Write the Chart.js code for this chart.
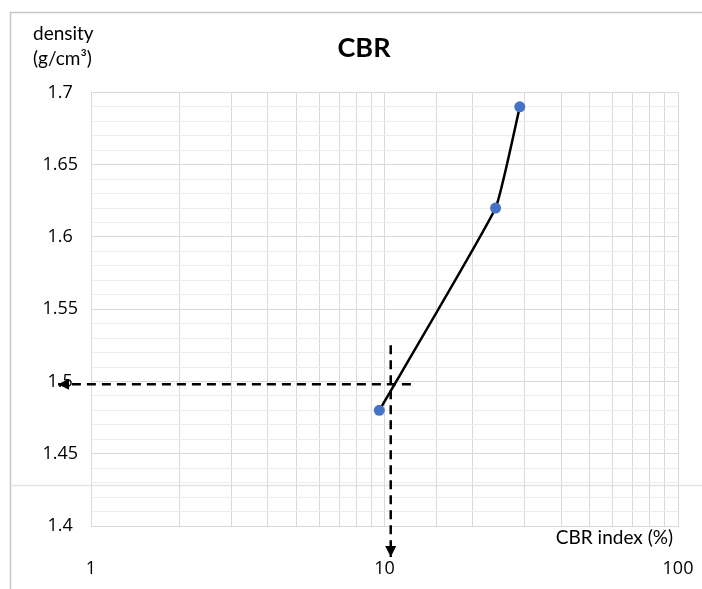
<!DOCTYPE html>
<html>
<head>
<meta charset="utf-8">
<script src="https://cdn.jsdelivr.net/npm/chart.js@4.4.1/dist/chart.umd.min.js"></script>
<style>
  html, body { margin: 0; padding: 0; background: #ffffff; }
  #wrap { width: 702px; height: 589px; position: relative; }
</style>
</head>
<body>
<div id="wrap"><canvas id="cbr" width="702" height="589"></canvas></div>
<script>
// CBR test results: index (%) against dry density (g/cm³)
const cbrIndex = [9.6, 23.9, 28.9];
const density = [1.48, 1.62, 1.69];

// Reading of the CBR at the design density (last point is the arrow tip)
const guideHorizX = [12.3, 0.772];
const guideHorizY = [1.498, 1.498];
const guideVertX = [10.5, 10.5];
const guideVertY = [1.525, 1.3786];

// Axis ranges and labelled ticks
const xTickLabels = [1, 10, 100];
const yRange = [1.4, 1.7];

const FONT = 'Lato, "Open Sans", "Liberation Sans", sans-serif';
const TICK_FONT = '"Open Sans", Lato, "Liberation Sans", sans-serif';
const MAJOR_GRID = '#d9d9d9';
const MINOR_GRID = '#ededed';

const toPoints = (xs, ys) => xs.map((x, i) => ({ x: x, y: ys[i] }));
const isMajorY = v => Math.round(v * 100) % 5 === 0;

// Border of the chart frame and the stray rule across it
const framePlugin = {
  id: 'frame',
  beforeDraw(chart) {
    const ctx = chart.ctx;
    ctx.save();
    ctx.lineWidth = 1.5;
    ctx.strokeStyle = '#c6c6c6';
    ctx.beginPath();
    ctx.moveTo(10.5, chart.height);
    ctx.lineTo(10.5, 12.5);
    ctx.lineTo(chart.width, 12.5);
    ctx.stroke();
    ctx.strokeStyle = '#e4e4e4';
    ctx.beginPath();
    ctx.moveTo(10.5, 485.5);
    ctx.lineTo(chart.width, 485.5);
    ctx.stroke();
    ctx.restore();
  }
};

// Filled arrowheads at the last point of the guide datasets
const arrowPlugin = {
  id: 'arrows',
  afterDatasetsDraw(chart) {
    const ctx = chart.ctx;
    chart.data.datasets.forEach((ds, i) => {
      if (!ds.arrow) return;
      const pts = chart.getDatasetMeta(i).data;
      const tip = pts[pts.length - 1];
      const prev = pts[pts.length - 2];
      const ang = Math.atan2(tip.y - prev.y, tip.x - prev.x);
      const len = 11, half = 5.5;
      const bx = tip.x - Math.cos(ang) * len;
      const by = tip.y - Math.sin(ang) * len;
      ctx.save();
      ctx.fillStyle = '#000000';
      ctx.beginPath();
      ctx.moveTo(tip.x, tip.y);
      ctx.lineTo(bx + Math.sin(ang) * half, by - Math.cos(ang) * half);
      ctx.lineTo(bx - Math.sin(ang) * half, by + Math.cos(ang) * half);
      ctx.closePath();
      ctx.fill();
      ctx.restore();
    });
  }
};

// Axis titles placed the way the spreadsheet lays them out
const axisTitlePlugin = {
  id: 'axisTitles',
  afterDraw(chart) {
    const ctx = chart.ctx;
    const area = chart.chartArea;
    ctx.save();
    ctx.fillStyle = '#000000';
    ctx.font = '19px ' + FONT;
    ctx.textBaseline = 'middle';
    ctx.textAlign = 'left';
    ctx.fillText('density', area.left - 58, 34);
    ctx.fillText('(g/cm³)', area.left - 58, 59);
    ctx.textAlign = 'right';
    ctx.fillText('CBR index (%)', area.right - 5, area.bottom + 12);
    ctx.restore();
  }
};

new Chart(document.getElementById('cbr'), {
  type: 'scatter',
  data: {
    datasets: [
      {
        label: 'CBR',
        data: toPoints(cbrIndex, density),
        showLine: true,
        tension: 0.12,
        borderColor: '#000000',
        borderWidth: 2.5,
        pointRadius: 5.5,
        pointHoverRadius: 5.5,
        pointBackgroundColor: '#4472c4',
        pointBorderColor: '#4472c4',
        pointBorderWidth: 0,
        order: 0
      },
      {
        label: 'density reading',
        data: toPoints(guideHorizX, guideHorizY),
        showLine: true,
        clip: false,
        arrow: true,
        borderColor: '#000000',
        borderWidth: 2.5,
        borderDash: [9, 6],
        pointRadius: 0,
        order: 1
      },
      {
        label: 'CBR reading',
        data: toPoints(guideVertX, guideVertY),
        showLine: true,
        clip: false,
        arrow: true,
        borderColor: '#000000',
        borderWidth: 2.5,
        borderDash: [9, 6],
        pointRadius: 0,
        order: 1
      }
    ]
  },
  options: {
    responsive: false,
    animation: false,
    events: [],
    layout: { padding: { left: 26, right: 0, top: 0, bottom: 0 } },
    plugins: {
      legend: { display: false },
      tooltip: { enabled: false },
      title: {
        display: true,
        text: 'CBR',
        color: '#000000',
        font: { family: FONT, size: 27, weight: 'bold', lineHeight: 1.2 },
        padding: { top: 32, bottom: 28 }
      }
    },
    scales: {
      x: {
        type: 'logarithmic',
        min: xTickLabels[0],
        max: xTickLabels[xTickLabels.length - 1],
        afterFit(scale) {
          scale.height = 63;
          scale.paddingLeft = 0;
          scale.paddingRight = 24;
        },
        border: { color: MAJOR_GRID, width: 1 },
        grid: { color: MAJOR_GRID, lineWidth: 1, drawTicks: false },
        ticks: {
          autoSkip: false,
          maxRotation: 0,
          padding: 32,
          color: '#000000',
          font: { family: TICK_FONT, size: 18 },
          callback: v => xTickLabels.includes(v) ? String(v) : ''
        }
      },
      y: {
        type: 'linear',
        min: yRange[0],
        max: yRange[1],
        afterFit(scale) { scale.width = 65; },
        border: { color: MAJOR_GRID, width: 1 },
        grid: {
          drawTicks: false,
          lineWidth: 1,
          color: c => (c.tick && isMajorY(c.tick.value)) ? MAJOR_GRID : MINOR_GRID
        },
        ticks: {
          stepSize: 0.01,
          autoSkip: false,
          maxTicksLimit: 100,
          padding: 13,
          crossAlign: 'center',
          color: '#000000',
          font: { family: TICK_FONT, size: 18 },
          callback: v => isMajorY(v) ? String(parseFloat(v.toFixed(2))) : ''
        }
      }
    }
  },
  plugins: [framePlugin, arrowPlugin, axisTitlePlugin]
});
</script>
</body>
</html>
